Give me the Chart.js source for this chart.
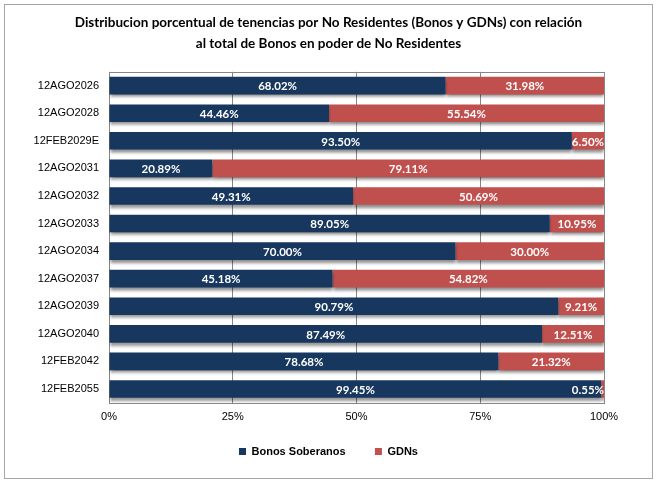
<!DOCTYPE html>
<html>
<head>
<meta charset="utf-8">
<script src="https://cdn.jsdelivr.net/npm/chart.js@4.4.1/dist/chart.umd.min.js"></script>
<style>
  body { margin: 0; background: #fff; }
  #frame { position: absolute; left: 4px; top: 4px; width: 647px; height: 473px; border: 1px solid #a6a6a6; }
  #wrap { position: absolute; left: 0; top: 0; width: 657px; height: 481px; }
</style>
</head>
<body>
<div id="frame"></div>
<div id="wrap"><canvas id="myChart" width="657" height="481"></canvas></div>
<script>
// Bonds (categories) and the two shares per bond
const bonos = ['12AGO2026', '12AGO2028', '12FEB2029E', '12AGO2031', '12AGO2032', '12AGO2033',
               '12AGO2034', '12AGO2037', '12AGO2039', '12AGO2040', '12FEB2042', '12FEB2055'];
const soberanos = [68.02, 44.46, 93.50, 20.89, 49.31, 89.05, 70.00, 45.18, 90.79, 87.49, 78.68, 99.45];
const gdns = [31.98, 55.54, 6.50, 79.11, 50.69, 10.95, 30.00, 54.82, 9.21, 12.51, 21.32, 0.55];
const xTicks = ['0%', '25%', '50%', '75%', '100%'];

// drop shadow under the bars
const barShadow = {
    id: 'barShadow',
    beforeDatasetsDraw(chart) {
        const ctx = chart.ctx;
        ctx.save();
        ctx.shadowColor = 'rgba(0,0,0,0.45)';
        ctx.shadowOffsetX = 0;
        ctx.shadowOffsetY = 3;
        ctx.shadowBlur = 3;
    },
    afterDatasetsDraw(chart) {
        chart.ctx.restore();
    }
};

// plot area border
const plotBorder = {
    id: 'plotBorder',
    beforeDatasetsDraw(chart) {
        const a = chart.chartArea;
        const ctx = chart.ctx;
        ctx.save();
        ctx.strokeStyle = '#868686';
        ctx.lineWidth = 1;
        ctx.strokeRect(Math.round(a.left) + 0.5, Math.round(a.top) + 0.5,
                       Math.round(a.right - a.left), Math.round(a.bottom - a.top));
        ctx.restore();
    }
};

// white value labels centered in each segment, kept inside the plot
const valueLabels = {
    id: 'valueLabels',
    afterDraw(chart) {
        const ctx = chart.ctx;
        const right = chart.chartArea.right;
        ctx.save();
        ctx.font = 'bold 11.5px Lato, "Open Sans", sans-serif';
        ctx.fillStyle = '#ffffff';
        ctx.textBaseline = 'middle';
        ctx.textAlign = 'center';
        chart.data.datasets.forEach((ds, i) => {
            chart.getDatasetMeta(i).data.forEach((bar, j) => {
                const txt = ds.data[j].toFixed(2) + '%';
                const w = ctx.measureText(txt).width;
                let cx = (bar.x + bar.base) / 2;
                if (cx + w / 2 > right) cx = right - w / 2;
                ctx.fillText(txt, cx, bar.y + 1);
            });
        });
        ctx.restore();
    }
};

const ctx = document.getElementById('myChart').getContext('2d');
const myChart = new Chart(ctx, {
    type: 'bar',
    data: {
        labels: bonos,
        datasets: [{
            label: 'Bonos Soberanos',
            data: soberanos,
            backgroundColor: '#17375E',
            barPercentage: 0.64,
            categoryPercentage: 1
        }, {
            label: 'GDNs',
            data: gdns,
            backgroundColor: '#C0504D',
            barPercentage: 0.64,
            categoryPercentage: 1
        }]
    },
    options: {
        responsive: false,
        animation: false,
        indexAxis: 'y',
        layout: { padding: { top: 12, left: 0, right: 0, bottom: 14 } },
        scales: {
            x: {
                stacked: true,
                min: 0,
                max: 100,
                border: { display: false },
                grid: { color: '#868686', drawTicks: false },
                ticks: {
                    stepSize: 25,
                    padding: 8,
                    color: '#000',
                    font: { family: 'Arial, "Liberation Sans"', size: 11 },
                    callback: (v, i) => xTicks[i]
                }
            },
            y: {
                stacked: true,
                border: { display: false },
                grid: { display: false, drawTicks: false },
                ticks: {
                    padding: 10,
                    color: '#000',
                    font: { family: 'Arial, "Liberation Sans"', size: 11 }
                },
                afterFit: (scale) => { scale.width = 109; }
            },
            // empty axis on the right, only to leave the blank margin
            yRight: {
                position: 'right',
                border: { display: false },
                grid: { display: false, drawTicks: false },
                ticks: { display: false },
                afterFit: (scale) => { scale.width = 53; }
            }
        },
        plugins: {
            title: {
                display: true,
                text: ['Distribucion porcentual de tenencias por No Residentes (Bonos y GDNs) con relación',
                       'al total de Bonos en poder de No Residentes'],
                color: '#000',
                font: { family: 'Lato, "Open Sans", sans-serif', size: 13.5, weight: 'bold', lineHeight: 1.55 },
                padding: { top: 0, bottom: 18 }
            },
            legend: {
                position: 'bottom',
                labels: {
                    boxWidth: 7,
                    boxHeight: 7,
                    padding: 14,
                    color: '#000',
                    font: { family: 'Arial, "Liberation Sans"', size: 11, weight: 'bold' },
                    generateLabels: (chart) => {
                        const items = Chart.defaults.plugins.legend.labels.generateLabels(chart);
                        items[0].text += '     ';
                        return items;
                    }
                }
            },
            tooltip: { enabled: false }
        }
    },
    plugins: [plotBorder, barShadow, valueLabels]
});
</script>
</body>
</html>
